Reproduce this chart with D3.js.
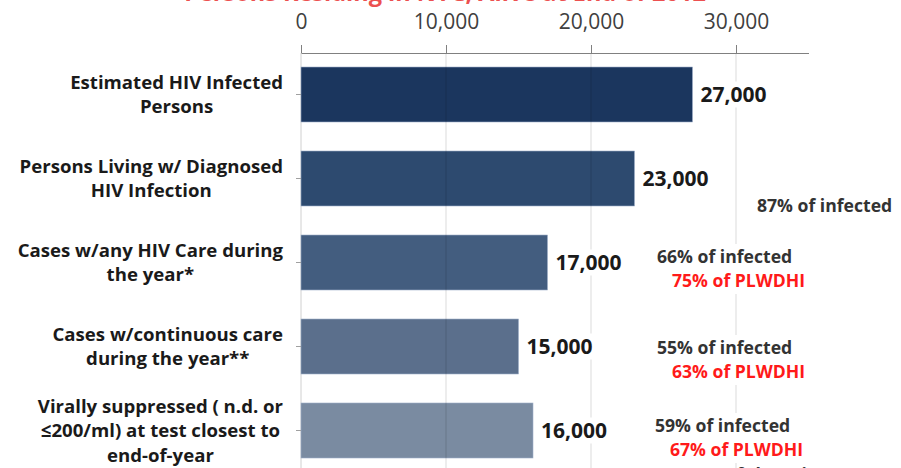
<!DOCTYPE html>
<html><head><meta charset="utf-8">
<script src="https://cdn.jsdelivr.net/npm/d3@7"></script>
<style>body{margin:0;background:#fff}svg{display:block}</style>
</head><body>
<svg id="c" width="901" height="468"></svg>
<script>
const categories = [
  ["Estimated HIV Infected","Persons"],
  ["Persons Living w/ Diagnosed","HIV Infection"],
  ["Cases w/any HIV Care during","the year*"],
  ["Cases w/continuous care","during the year**"],
  ["Virally suppressed ( n.d. or","\u2264200/ml) at test closest to","end-of-year"]
];
const values = [27000, 23000, 17000, 15000, 16000];
const valueLabels = ["27,000","23,000","17,000","15,000","16,000"];
const pctInfected = [null, "87% of infected", "66% of infected", "55% of infected", "59% of infected"];
const pctPLWDHI = [null, null, "75% of PLWDHI", "63% of PLWDHI", "67% of PLWDHI"];
const tickValues = [0, 10000, 20000, 30000];
const barColors = ["#1b365e","#2d4a6f","#435d7f","#5b6f8c","#7a8ba1"];
const titleText = "Persons Residing in NYC, Alive at End of 2012";

const svg = d3.select("#c");
const font = "'Open Sans', sans-serif";
const x = d3.scaleLinear().domain([0, 35000]).range([301, 808.5]);
const y = d3.scaleBand().domain(d3.range(categories.length)).range([52.5, 472.5])
  .paddingInner(29/84).paddingOuter(29/168);

// cut-off title
svg.append("text").attr("x", 445).attr("y", 1.2).attr("text-anchor","middle")
  .attr("font-family", font).attr("font-weight","bold").attr("font-size",23.5)
  .attr("fill","#ec5050").text(titleText);

// y axis line
svg.append("line").attr("x1",x(0)).attr("x2",x(0)).attr("y1",53).attr("y2",468)
  .attr("stroke","#d0d0d0");

// bars
svg.selectAll("rect.bar").data(values).join("rect").attr("class","bar")
  .attr("x", x(0)).attr("y",(d,i)=>y(i)).attr("width", d=>x(d)-x(0))
  .attr("height", y.bandwidth()).attr("fill",(d,i)=>barColors[i])
  .attr("stroke","#9fb0c8").attr("stroke-width",0.6);

// gridlines
svg.selectAll("line.grid").data(tickValues.slice(1)).join("line").attr("class","grid")
  .attr("x1",d=>x(d)).attr("x2",d=>x(d)).attr("y1",53).attr("y2",468)
  .attr("stroke","#000").attr("stroke-opacity",0.14);

// y ticks
svg.selectAll("line.yt").data(values).join("line").attr("class","yt")
  .attr("x1",x(0)-5).attr("x2",x(0)).attr("y1",(d,i)=>y(i)+y.bandwidth()/2)
  .attr("y2",(d,i)=>y(i)+y.bandwidth()/2).attr("stroke","#a0a0a0");

// top axis
const ax = svg.append("g").attr("transform","translate(0,53)")
  .call(d3.axisTop(x).tickValues(tickValues).tickSize(8).tickSizeOuter(0).tickFormat(d3.format(",")));
ax.select(".domain").attr("stroke","#808080");
ax.selectAll(".tick line").attr("stroke","#808080");
ax.selectAll(".tick text").attr("font-family",font).attr("font-size",21)
  .attr("fill","#404040").attr("y",-24);

// category labels
categories.forEach((lines,i)=>{
  const cy = y(i)+y.bandwidth()/2;
  const g = svg.append("g");
  const lh = 24.5;
  const t = lines.map((s,k)=>g.append("text").attr("font-family",font).attr("font-weight","bold")
    .attr("font-size",18.6).attr("fill","#1a1a1a").attr("text-anchor","middle")
    .attr("dy","0.36em").attr("y", cy + (k-(lines.length-1)/2)*lh).text(s));
  const w = d3.max(t, n=>n.node().getComputedTextLength());
  t.forEach(n=>n.attr("x", 283 - w/2));
});

// value labels with white background
values.forEach((v,i)=>{
  const cy = y(i)+y.bandwidth()/2;
  const g = svg.append("g");
  const r = g.append("rect").attr("fill","#fff");
  const t = g.append("text").attr("x", x(v)+8).attr("y", cy).attr("dy","0.36em")
    .attr("font-family",font).attr("font-weight","bold").attr("font-size",21)
    .attr("fill","#1a1a1a").text(valueLabels[i]);
  const w = t.node().getComputedTextLength();
  r.attr("x", x(v)+6).attr("y", cy-13).attr("width", w+4).attr("height",26);
});

// percentage annotations
const annX = [null, 757, 657, 657, 655];
const annY = [null, 206, 257, 348, 426];
pctInfected.forEach((s,i)=>{
  if(!s) return;
  const g = svg.append("g");
  const hasRed = !!pctPLWDHI[i];
  g.append("rect").attr("x", annX[i]-6).attr("y", annY[i]-13)
    .attr("width", 160).attr("height", hasRed ? 50 : 26).attr("fill","#fff");
  g.append("text").attr("x", annX[i]).attr("y", annY[i]).attr("dy","0.36em")
    .attr("font-family",font).attr("font-weight","bold").attr("font-size",17.6)
    .attr("fill","#333").text(s);
  if(hasRed) g.append("text").attr("x", annX[i]+15).attr("y", annY[i]+24).attr("dy","0.36em")
    .attr("font-family",font).attr("font-weight","bold").attr("font-size",17.6)
    .attr("fill","#ff1a1a").text(pctPLWDHI[i]);
});
// cut-off line at bottom
svg.append("text").attr("x", 685).attr("y", 481)
  .attr("font-family",font).attr("font-weight","bold").attr("font-size",17.6)
  .attr("fill","#333").text("89% of those in care");
</script>
</body></html>
